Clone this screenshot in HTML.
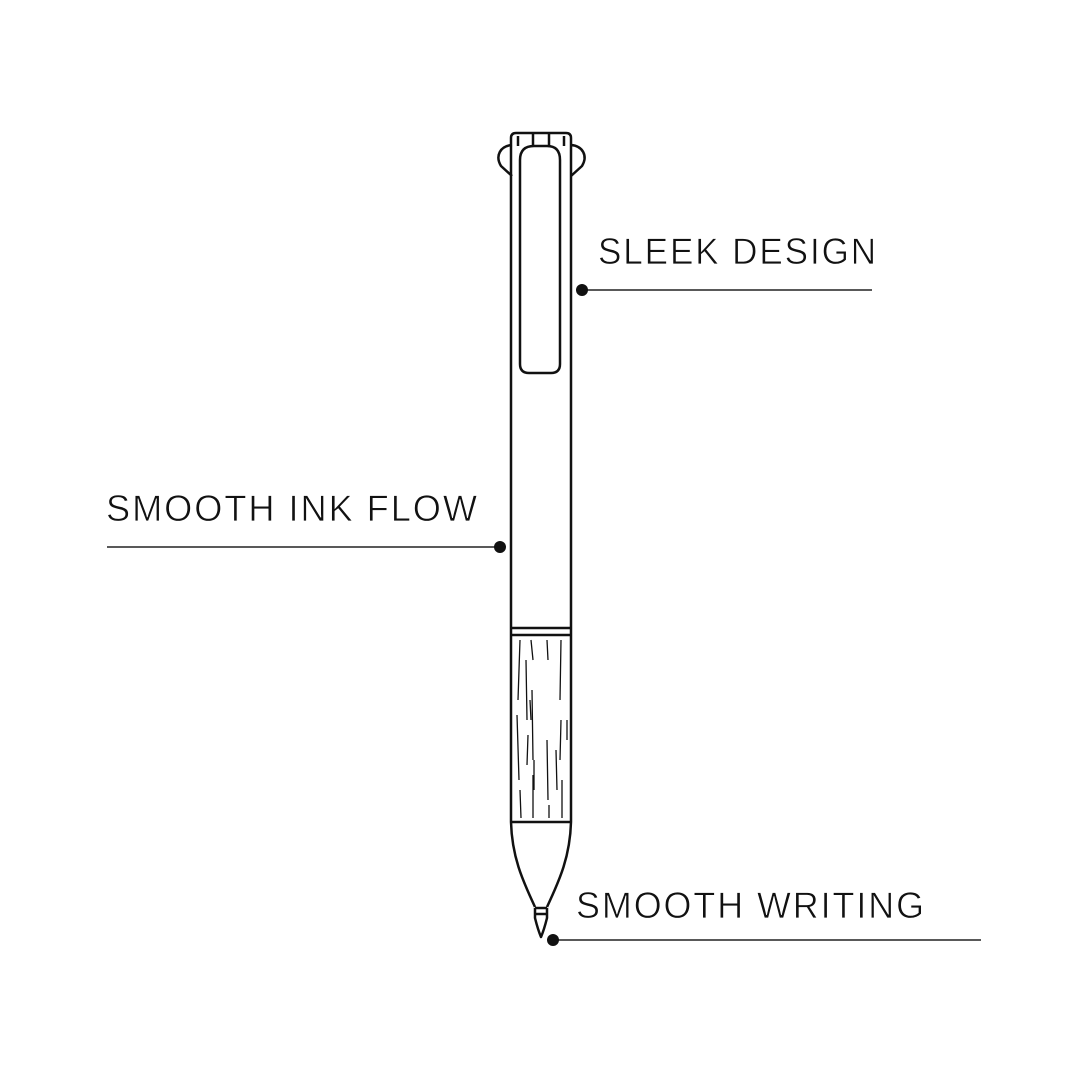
<!DOCTYPE html>
<html><head><meta charset="utf-8"><style>html,body{margin:0;padding:0;background:#fff}svg{display:block}</style></head>
<body>
<svg width="1080" height="1080" viewBox="0 0 1080 1080" xmlns="http://www.w3.org/2000/svg">
<rect width="1080" height="1080" fill="#fff"/>
<g fill="none" stroke="#111" stroke-width="2.5" stroke-linejoin="round">
  <path d="M512 145 C500 146 495 156 501 166 L512 176"/>
  <path d="M571 145 C583 146 588 156 582 166 L571 176"/>
  <path d="M511 822 L511 138 Q511 133 516 133 L566 133 Q571 133 571 138 L571 822"/>
  <line x1="533" y1="134" x2="533" y2="145"/>
  <line x1="549" y1="134" x2="549" y2="145"/>
  <line x1="518" y1="136" x2="518" y2="146"/>
  <line x1="564" y1="136" x2="564" y2="146"/>
  <path d="M520 160 Q520 146 534 146 L547 146 Q560 146 560 160 L560 364 Q560 373 551 373 L529 373 Q520 373 520 364 Z"/>
  <line x1="511" y1="628" x2="571" y2="628"/>
  <line x1="511" y1="635" x2="571" y2="635"/>
  <line x1="511" y1="822" x2="571" y2="822"/>
  <path d="M511 822 C512 860 525 885 535 907 M571 822 C570 860 557 885 547 907"/>
  <line x1="535" y1="908" x2="547" y2="908"/>
  <line x1="535" y1="914" x2="547" y2="914"/>
  <path d="M535 908 L535 918 Q538 930 541 937 Q544 930 547 918 L547 908"/>
</g>
<g stroke="#111" stroke-width="1.3" fill="none">
  <path d="M520 640 L518 700 M517 715 L519 780 M520 790 L521 818"/>
  <path d="M526 660 L527 720 M528 735 L527 765"/>
  <path d="M531 640 L533 660 M532 690 L533 760 M533 775 L533 818"/>
  <path d="M530 700 L531 720 M534 760 L534 790"/>
  <path d="M547 640 L548 660 M547 740 L548 800 M549 805 L549 818"/>
  <path d="M561 640 L560 700 M561 720 L560 760 M562 780 L562 818"/>
  <path d="M567 720 L567 740 M556 750 L557 790"/>
</g>
<g stroke="#222" stroke-width="1.6">
  <line x1="582" y1="290" x2="872" y2="290"/>
  <line x1="107" y1="547" x2="500" y2="547"/>
  <line x1="553" y1="940" x2="981" y2="940"/>
</g>
<g fill="#111">
  <circle cx="582" cy="290" r="6"/>
  <circle cx="500" cy="547" r="6"/>
  <circle cx="553" cy="940" r="6"/>
</g>
<g font-family="'Liberation Sans', sans-serif" font-size="37" fill="#111" stroke="#fff" stroke-width="0.7" letter-spacing="2">
  <text x="598" y="264" textLength="280" lengthAdjust="spacingAndGlyphs">SLEEK DESIGN</text>
  <text x="106" y="521" textLength="373" lengthAdjust="spacingAndGlyphs">SMOOTH INK FLOW</text>
  <text x="576" y="918" textLength="350" lengthAdjust="spacingAndGlyphs">SMOOTH WRITING</text>
</g>
</svg>
</body></html>
